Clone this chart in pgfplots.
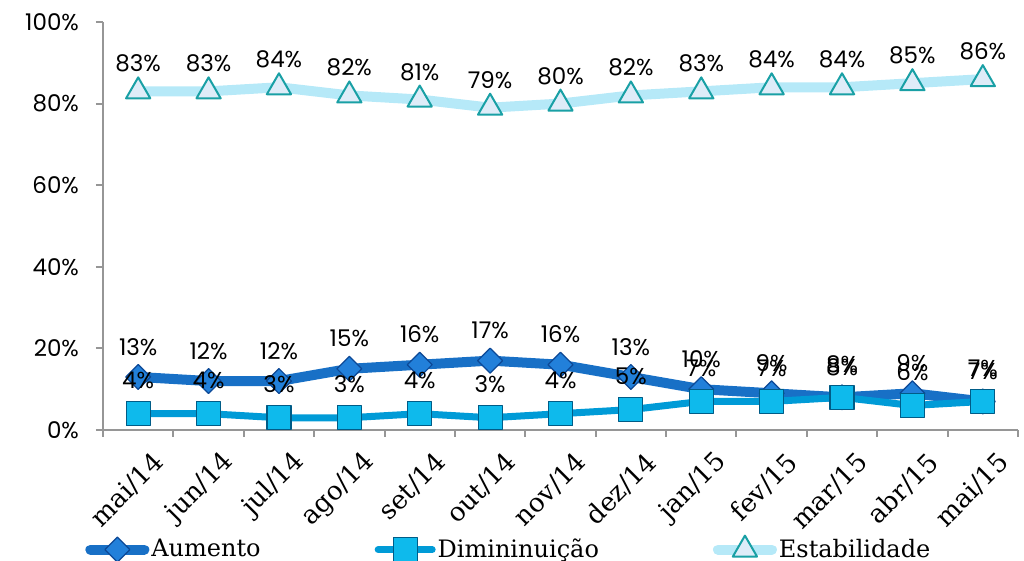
\documentclass[border=0pt]{standalone}
\usepackage{fontspec}
\setmainfont{DejaVu Serif}
\newfontfamily\numfont{Poppins}
\usepackage{pgfplots}
\usepackage{pgfplotstable}
\pgfplotsset{compat=1.18}

\definecolor{aum}{RGB}{24,112,198}
\definecolor{aumfill}{RGB}{34,128,218}
\definecolor{aumdark}{RGB}{12,72,150}
\definecolor{dim}{RGB}{0,155,215}
\definecolor{dimfill}{RGB}{14,186,236}
\definecolor{dimdark}{RGB}{0,92,135}
\definecolor{est}{RGB}{182,233,248}
\definecolor{estfill}{RGB}{222,236,248}
\definecolor{estdark}{RGB}{25,160,165}
\definecolor{axisgray}{RGB}{150,150,150}

% monthly shares (%) of answers: increase / decrease / stability
\pgfplotstableread{
x aum dim est
0  13 4 83
1  12 4 83
2  12 3 84
3  15 3 82
4  16 4 81
5  17 3 79
6  16 4 80
7  13 5 82
8  10 7 83
9   9 7 84
10  8 8 84
11  9 6 85
12  7 7 86
}\dados

\begin{document}
\begin{tikzpicture}
\begin{axis}[
  at={(0,0)}, anchor=south west,
  scale only axis, width=457.5pt, height=204pt,
  xmin=-0.5, xmax=12.5, ymin=0, ymax=100,
  clip=false,
  axis x line*=bottom, axis y line*=left,
  axis line style={axisgray, line width=1pt, -},
  every tick/.style={axisgray, line width=1pt},
  tick align=outside,
  major tick length=3.5pt, minor tick length=3.5pt,
  xtick={0,...,12},
  major x tick style={draw=none},
  minor xtick={-0.5,0.5,...,12.5},
  xticklabels={mai/14,jun/14,jul/14,ago/14,set/14,out/14,nov/14,dez/14,jan/15,fev/15,mar/15,abr/15,mai/15},
  xticklabel style={font=\fontsize{13}{15}\selectfont, rotate=45, anchor=east, xshift=3.5pt, yshift=-15pt},
  ytick={0,20,...,100},
  yticklabels={0\%,20\%,40\%,60\%,80\%,100\%},
  yticklabel style={font=\numfont\fontsize{11.5}{13}\selectfont, anchor=east, xshift=-5pt},
  nodes near coords={\pgfmathprintnumber[assume math mode=true]{\pgfplotspointmeta}\%},
  point meta=y,
  every node near coord/.style={text=black, font=\numfont\fontsize{11.5}{13}\selectfont, anchor=south, inner sep=0pt},
  legend columns=3,
  legend style={at={(axis description cs:-0.0197,-0.2917)}, anchor=west,
    draw=none, fill=none, inner sep=0pt,
    font=\fontsize{12}{14}\selectfont,
    nodes={inner sep=1pt},
    /tikz/every even column/.append style={column sep=56pt}},
  legend image code/.code={%
    \draw[mark repeat=2, mark phase=2, #1] plot coordinates {(0pt,0pt) (13.5pt,0pt) (27pt,0pt)};},
]
\addplot[aum, line width=5pt, line cap=round, line join=round,
  mark=square*, mark size=4.4pt,
  mark options={rotate=45, fill=aumfill, draw=aumdark, line width=0.6pt},
  every node near coord/.append style={yshift=10.5pt}]
  table[x=x, y=aum] {\dados};
\addlegendentry{Aumento}
\addplot[dim, line width=3.5pt, line cap=round, line join=round,
  mark=square*, mark size=6pt,
  mark options={fill=dimfill, draw=dimdark, line width=0.6pt},
  every node near coord/.append style={yshift=12pt}]
  table[x=x, y=dim] {\dados};
\addlegendentry{Dimininuição}
\addplot[est, line width=5pt, line cap=round, line join=round,
  mark=triangle*, mark size=7pt,
  mark options={fill=estfill, draw=estdark, line width=1pt},
  every node near coord/.append style={yshift=9pt}]
  table[x=x, y=est] {\dados};
\addlegendentry{Estabilidade}
\end{axis}
\pgfresetboundingbox
\path (-51.5pt,-65.5pt) rectangle (460.5pt,215pt);
\end{tikzpicture}
\end{document}
